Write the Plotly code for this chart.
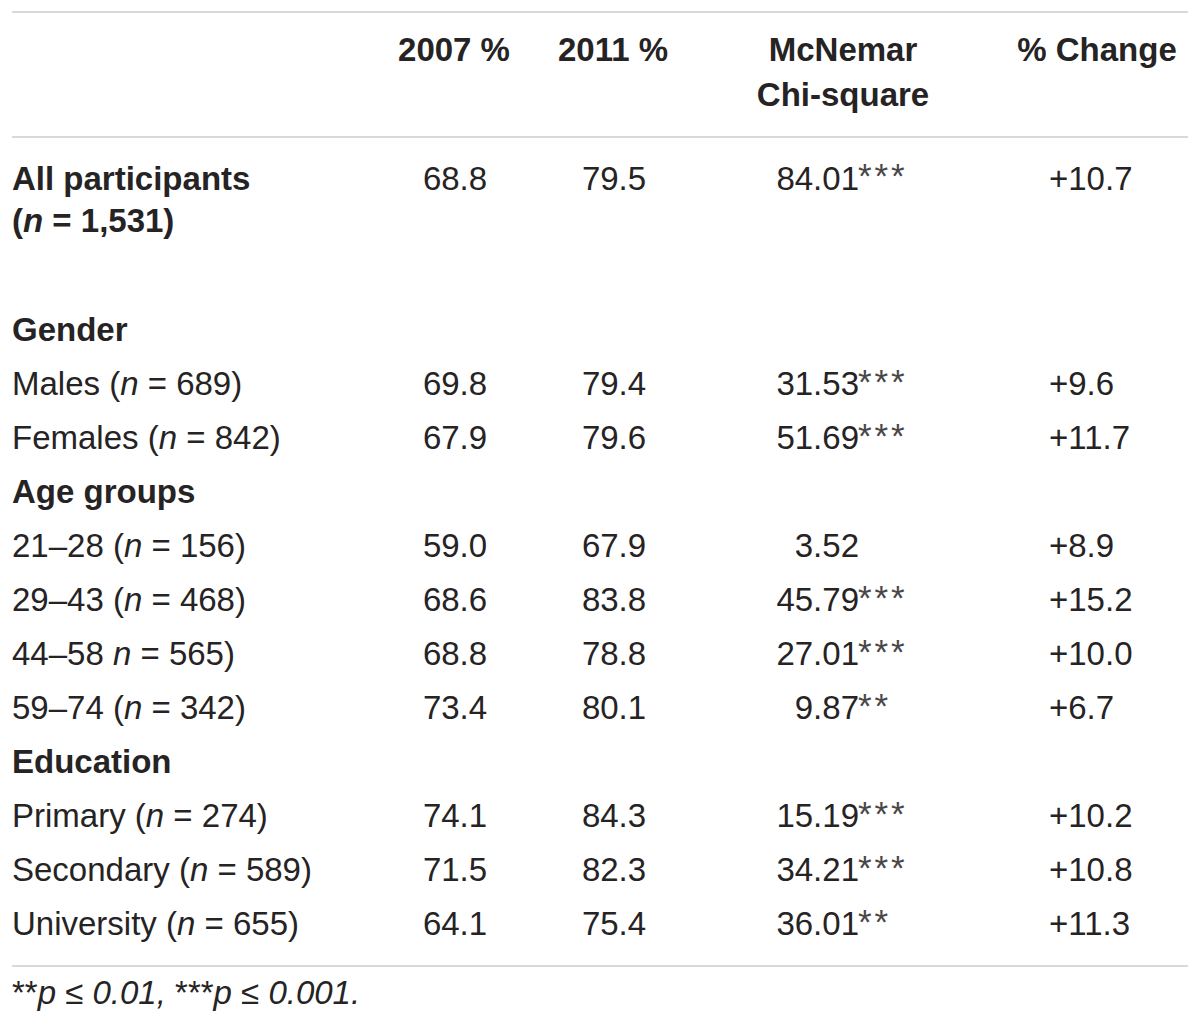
import plotly.graph_objects as go

# table content
columns = ["2007 %", "2011 %", "McNemar<br>Chi-square", "% Change"]

row_labels = [
    "<b>All participants</b>",
    "Males (<i>n</i> = 689)",
    "Females (<i>n</i> = 842)",
    "21–28 (<i>n</i> = 156)",
    "29–43 (<i>n</i> = 468)",
    "44–58 <i>n</i> = 565)",
    "59–74 (<i>n</i> = 342)",
    "Primary (<i>n</i> = 274)",
    "Secondary (<i>n</i> = 589)",
    "University (<i>n</i> = 655)",
]
pct_2007 = [68.8, 69.8, 67.9, 59.0, 68.6, 68.8, 73.4, 74.1, 71.5, 64.1]
pct_2011 = [79.5, 79.4, 79.6, 67.9, 83.8, 78.8, 80.1, 84.3, 82.3, 75.4]
chi_square = [84.01, 31.53, 51.69, 3.52, 45.79, 27.01, 9.87, 15.19, 34.21, 36.01]
chi_stars = ["***", "***", "***", "", "***", "***", "**", "***", "***", "**"]
pct_change = [10.7, 9.6, 11.7, 8.9, 15.2, 10.0, 6.7, 10.2, 10.8, 11.3]

sections = ["Gender", "Age groups", "Education"]
footnote = "**<i>p ≤ 0.01, </i>***<i>p ≤ 0.001.</i>"

# layout of the rows (row slots, 1 slot = one row height)
row_slot = [-3.81, 0, 1, 3, 4, 5, 6, 8, 9, 10]
section_slot = [-1, 2, 7]
ROW0, STEP = 387, 54

def ypix(s):
    return ROW0 + STEP * s

W, H = 1200, 1029
FONT = "Liberation Sans"
INK = "#262324"
FS = 33

fig = go.Figure()

def add_text(x, y, text, pos, size=FS, color=INK):
    fig.add_trace(go.Scatter(
        x=x, y=y, text=text, mode="text", textposition=pos,
        textfont=dict(family=FONT, size=size, color=color),
        showlegend=False, hoverinfo="skip"
    ))

ys = [ypix(s) for s in row_slot]

# header
add_text([454, 613], [53, 53], ["<b>%s</b>" % c for c in columns[:2]], "middle center")
add_text([843], [53], ["<b>McNemar</b>"], "middle center")
add_text([843], [98], ["<b>Chi-square</b>"], "middle center")
add_text([1097], [53], ["<b>%s</b>" % columns[3]], "middle center")

# first column
add_text([12] * len(ys), ys, row_labels, "middle right")
add_text([12], [ypix(row_slot[0]) + 42], ["<b>(<i>n</i> = 1,531)</b>"], "middle right")
add_text([12] * len(sections), [ypix(s) for s in section_slot],
         ["<b>%s</b>" % s for s in sections], "middle right")

# value columns
add_text([455] * len(ys), ys, ["%.1f" % v for v in pct_2007], "middle center")
add_text([614] * len(ys), ys, ["%.1f" % v for v in pct_2011], "middle center")
add_text([859] * len(ys), ys, ["%.2f" % v for v in chi_square], "middle left")
add_text([858] * len(ys), [y - 2 for y in ys],
         ["\u200a".join(s) for s in chi_stars], "middle right",
         size=FS + 2, color="#4a4748")
add_text([1049] * len(ys), ys, ["+%.1f" % v for v in pct_change], "middle right")

# footnote
add_text([12], [996], [footnote], "middle right")

# rules
for yl in [12, 137, 966]:
    fig.add_shape(type="line", x0=12, x1=1188, y0=yl, y1=yl,
                  line=dict(color="#cccccc", width=1.6))

fig.update_layout(
    width=W, height=H,
    margin=dict(l=0, r=0, t=0, b=0),
    plot_bgcolor="white", paper_bgcolor="white",
    xaxis=dict(range=[0, W], visible=False, fixedrange=True),
    yaxis=dict(range=[H, 0], visible=False, fixedrange=True),
)

fig.write_html("out.html", config={"displayModeBar": False},
               post_script="document.body.style.margin='0';")
